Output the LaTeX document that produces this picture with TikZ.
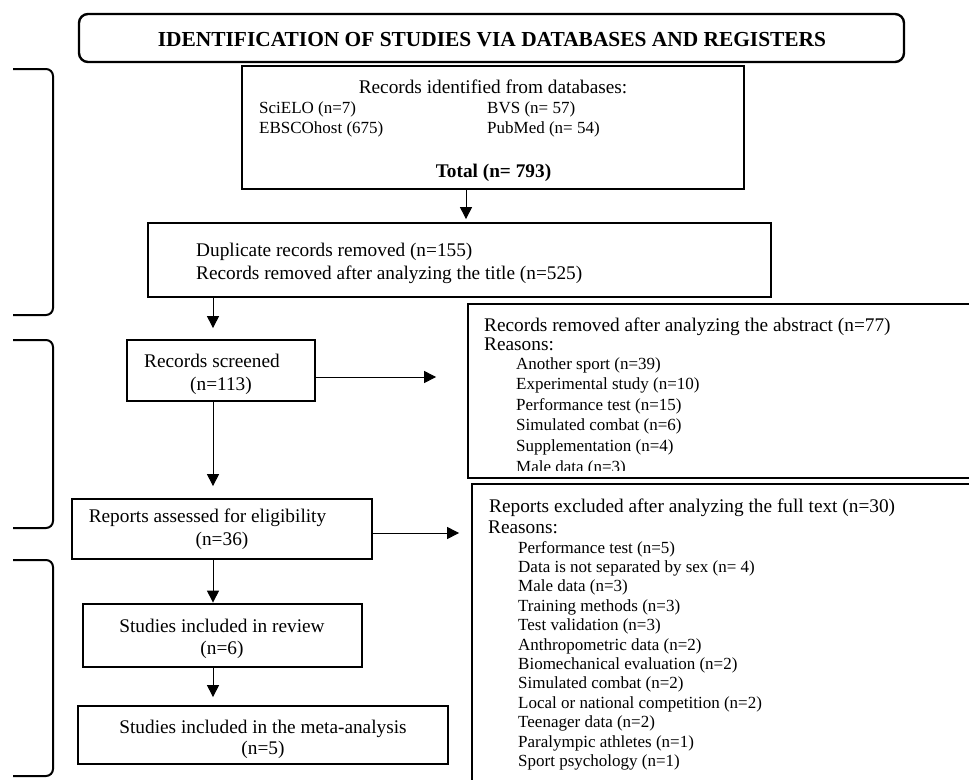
\documentclass[tikz,border=0pt]{standalone}
\usepackage{fontspec}
\setmainfont{Liberation Serif}
\usetikzlibrary{arrows.meta}
\newcommand\fntmain{\fontsize{19.3pt}{23pt}\selectfont}
\newcommand\fntsmall{\fontsize{17pt}{20pt}\selectfont}
\newcommand\fnttitle{\fontsize{21.4pt}{25pt}\selectfont\bfseries}
\begin{document}
\begin{tikzpicture}[x=1pt,y=-1pt,
  box/.style={draw,line width=1.8pt,inner sep=0pt},
  arr/.style={line width=1pt,-{Triangle[length=12pt,width=12pt]}},
  brk/.style={line width=2pt,rounded corners=7pt},
  txt/.style={inner sep=0pt,font=\fntmain},
  sm/.style={inner sep=0pt,font=\fntsmall,anchor=base west}]
\useasboundingbox (0,0) rectangle (969,779);
\clip (0,0) rectangle (969,779);

% title
\node[draw,line width=2.4pt,rounded corners=9pt,minimum width=825pt,minimum height=48pt,inner sep=0pt] (title) at (491.5,38) {};
\node[txt,font=\fnttitle,anchor=base] (titletxt) at (492,46) {IDENTIFICATION OF STUDIES VIA DATABASES AND REGISTERS};

% brackets
\draw[brk] (13,69) -- (53,69) -- (53,315) -- (13,315);
\draw[brk] (13,340) -- (53,340) -- (53,528) -- (13,528);
\draw[brk] (13,560) -- (53,560) -- (53,776) -- (13,776);

% boxes
\node[box,minimum width=502pt,minimum height=123pt] (idb) at (493,127.5) {};
\node[box,minimum width=623pt,minimum height=74pt] (dup) at (459.5,260) {};
\node[box,minimum width=188pt,minimum height=61pt] (scr) at (221,370.5) {};
\node[box,minimum width=300pt,minimum height=60pt] (rep) at (222,529) {};
\node[box,minimum width=279pt,minimum height=63pt] (inc) at (222.5,635.5) {};
\node[box,minimum width=370pt,minimum height=58pt] (meta) at (263,735) {};
\node[box,minimum width=522pt,minimum height=174pt] (rem1) at (729,391) {};
\node[box,minimum width=518pt,minimum height=316pt] (rem2) at (731,642) {};

% texts in left column
\node[txt,anchor=base] (idbt) at (493,93) {Records identified from databases:};
\node[sm] (sci) at (259,113) {SciELO (n=7)};
\node[sm] (ebs) at (259,133) {EBSCOhost (675)};
\node[sm] (bvs) at (487,113) {BVS (n= 57)};
\node[sm] (pub) at (487,133) {PubMed (n= 54)};
\node[txt,anchor=base,font=\fntmain\bfseries] (tot) at (493.5,177) {Total (n= 793)};
\node[txt,anchor=base west] (dup1) at (196,256) {Duplicate records removed (n=155)};
\node[txt,anchor=base west] (dup2) at (196,279) {Records removed after analyzing the title (n=525)};
\node[txt,anchor=base] (scr1) at (212,367) {Records screened};
\node[txt,anchor=base] (scr2) at (221,390) {(n=113)};
\node[txt,anchor=base] (rep1) at (207.5,522) {Reports assessed for eligibility};
\node[txt,anchor=base] (rep2) at (222,545) {(n=36)};
\node[txt,anchor=base] (inc1) at (222,632) {Studies included in review};
\node[txt,anchor=base] (inc2) at (222,654) {(n=6)};
\node[txt,anchor=base] (meta1) at (263,733) {Studies included in the meta-analysis};
\node[txt,anchor=base] (meta2) at (263,754) {(n=5)};

% right box 1
\begin{scope}
\clip (468,304) rectangle (969,470);
\node[txt,anchor=base west] (r1a) at (484,331) {Records removed after analyzing the abstract (n=77)};
\node[txt,anchor=base west] (r1b) at (484,350) {Reasons:};
\foreach \t [count=\i from 0] in {Another sport (n=39),Experimental study (n=10),Performance test (n=15),Simulated combat (n=6),Supplementation (n=4),Male data (n=3)}
  \node[sm] (r1l\i) at (516,369+20.6*\i) {\t};
\end{scope}

% right box 2
\node[txt,anchor=base west] (r2a) at (489,512) {Reports excluded after analyzing the full text (n=30)};
\node[txt,anchor=base west] (r2b) at (488,533) {Reasons:};
\foreach \t [count=\i from 0] in {Performance test (n=5),Data is not separated by sex (n= 4),Male data (n=3),Training methods (n=3),Test validation (n=3),Anthropometric data (n=2),Biomechanical evaluation (n=2),Simulated combat (n=2),Local or national competition (n=2),Teenager data (n=2),Paralympic athletes (n=1),Sport psychology (n=1)}
  \node[sm] (r2l\i) at (518,553+19.4*\i) {\t};

% arrows
\coordinate (xa) at (466,0);
\coordinate (xb) at (213,0);
\coordinate (ya) at (0,377);
\coordinate (yb) at (0,533);
\draw[arr,shorten >=3pt] (idb.south -| xa) -- (dup.north -| xa);
\draw[arr,shorten >=11pt] (dup.south -| xb) -- (scr.north -| xb);
\draw[arr,shorten >=31pt] (scr.east |- ya) -- (rem1.west |- ya);
\draw[arr,shorten >=12pt] (scr.south -| xb) -- (rep.north -| xb);
\draw[arr,shorten >=12pt] (rep.east |- yb) -- (rem2.west |- yb);
\draw[arr,shorten >=0.5pt] (rep.south -| xb) -- (inc.north -| xb);
\draw[arr,shorten >=8pt] (inc.south -| xb) -- (meta.north -| xb);
\end{tikzpicture}
\end{document}
